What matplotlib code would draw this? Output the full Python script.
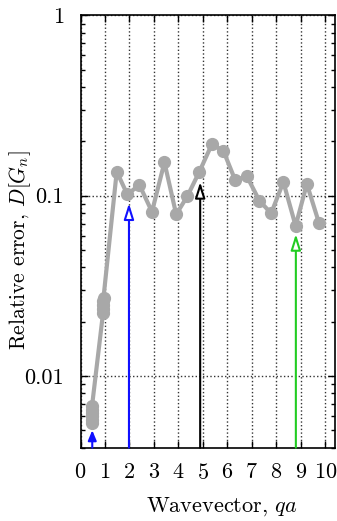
import numpy as np
import matplotlib
matplotlib.use("Agg")
import matplotlib.pyplot as plt
from matplotlib.ticker import LogLocator, NullFormatter

plt.rcParams['font.family'] = ['cmr10', 'DejaVu Serif']
plt.rcParams['mathtext.fontset'] = 'cm'
plt.rcParams['axes.formatter.use_mathtext'] = True

# relative error vs wavevector (several q at same |q| for the first two shells)
q = [0.45, 0.46, 0.46, 0.46, 0.47, 0.47, 0.92, 0.92, 0.93, 0.93, 0.94,
     1.48, 1.91, 2.41, 2.92, 3.43, 3.91, 4.37, 4.86, 5.37, 5.84, 6.32, 6.80,
     7.31, 7.79, 8.29, 8.79, 9.25, 9.75]
err = [0.0055, 0.0057, 0.0060, 0.0062, 0.0065, 0.0068, 0.0223, 0.0235, 0.0248, 0.0260, 0.0272,
       0.136, 0.1016, 0.1145, 0.0814, 0.153, 0.0787, 0.0995, 0.136, 0.193, 0.177, 0.122,
       0.128, 0.0937, 0.0798, 0.119, 0.068, 0.116, 0.0702]

# arrows marking selected wavevectors
arrow_q = [0.48, 1.98, 4.89, 8.80]
arrow_tip = [0.0050, 0.0906, 0.119, 0.0612]
arrow_col = ['#1010ff', '#1010ff', 'black', '#22cc22']
arrow_fill = ['#1010ff', 'white', 'white', 'white']

ymin, ymax = 0.004, 1.0

fig = plt.figure(figsize=(3.37, 5.21), dpi=100)
ax = fig.add_axes([0.2389, 0.1407, 0.7552, 0.8299])

for xq, tip, c, fc in zip(arrow_q, arrow_tip, arrow_col, arrow_fill):
    if fc == 'white':
        head = '-|>,head_length=0.95,head_width=0.3'
    else:
        head = '-|>,head_length=0.6,head_width=0.25'
    ax.annotate('', xy=(xq, tip), xytext=(xq, ymin),
                arrowprops=dict(arrowstyle=head, ec=c, fc=fc, lw=1.5,
                                mutation_scale=10, shrinkA=0, shrinkB=0),
                zorder=3)

ax.plot(q, err, '-o', color='#a8a8a8', lw=3, ms=8.5, zorder=4, clip_on=False)

ax.set_yscale('log')
ax.set_ylim(ymin, ymax)
ax.set_xlim(0, 10.4)
ax.set_xticks(range(0, 11))
ax.set_yticks([0.01, 0.1, 1])
ax.set_yticklabels(['0.01', '0.1', '1'])
ax.yaxis.set_minor_locator(LogLocator(base=10, subs=np.arange(2, 10), numticks=20))
ax.yaxis.set_minor_formatter(NullFormatter())

ax.grid(True, which='major', ls=':', color='#333333', lw=1.0)
ax.tick_params(which='both', direction='in', top=True, right=True, labelsize=16, width=1)
ax.tick_params(which='major', length=5)
ax.tick_params(which='minor', length=3)
ax.tick_params(axis='x', pad=11)
ax.tick_params(axis='y', pad=12)
for s in ax.spines.values():
    s.set_linewidth(1.2)

ax.set_xlabel('Wavevector, $qa$', fontsize=16)
ax.xaxis.set_label_coords(0.556, -0.11)
ax.set_ylabel('Relative error, $D[G_n]$', fontsize=15.5)
ax.yaxis.set_label_coords(-0.187, 0.457)

fig.savefig('out.png', dpi=100)
